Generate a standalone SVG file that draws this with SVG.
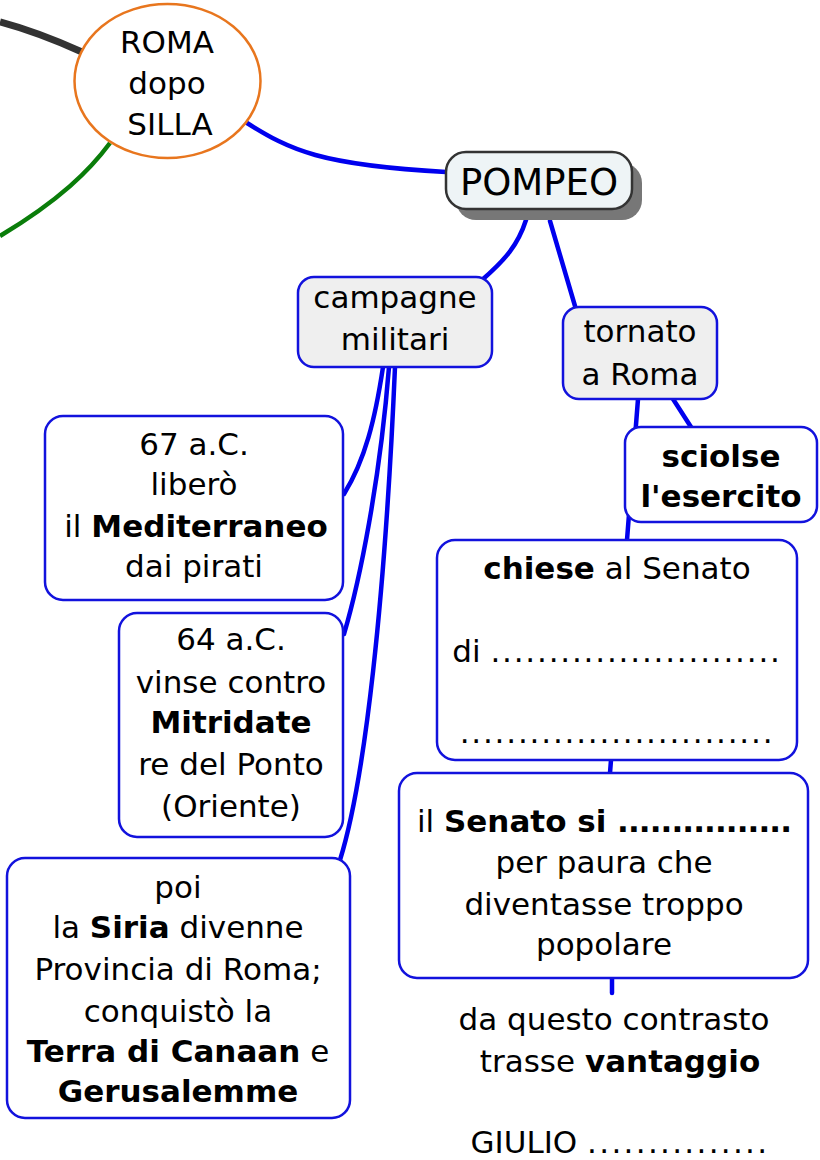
<svg xmlns="http://www.w3.org/2000/svg" width="820" height="1160" viewBox="0 0 820 1160">
<style>
text{font-family:"DejaVu Sans","Verdana",sans-serif;font-size:31px;fill:#000;text-anchor:middle}
.b{font-weight:bold}
.d{letter-spacing:1.8px}
.box{fill:#fff;stroke:#1212dd;stroke-width:2.5}
.grey{fill:#efefef}
.c{fill:none;stroke:#0000ee;stroke-width:4.5;stroke-linecap:round}
</style>
<rect width="820" height="1160" fill="#fff"/>
<g id="connectors">
<path d="M0,22 C30,30 55,40 82,52" fill="none" stroke="#333" stroke-width="7"/>
<path d="M110,143 C90,170 60,200 0,236" fill="none" stroke="#0a7d0a" stroke-width="4.5"/>
<path class="c" d="M247,123 C290,150 320,165 446,172"/>
<path class="c" d="M526,220 C518,245 505,260 482,280"/>
<path class="c" d="M550,221 L575,306"/>
<path class="c" d="M673,399 L691,427"/>
<path class="c" d="M638,399 L627,540"/>
<path class="c" d="M611,760 L610,773"/>
<path class="c" d="M612,978 L612,993" stroke-linecap="butt"/>
<path class="c" d="M383,367 C375,420 365,460 344,494"/>
<path class="c" d="M389,367 C380,480 360,580 344,634"/>
<path class="c" d="M395,367 C385,600 365,780 340,860"/>
</g>
<g id="roma">
<ellipse cx="167.5" cy="81" rx="93" ry="77" fill="#fff" stroke="#e8761e" stroke-width="2.5"/>
<text x="167" y="53">ROMA</text>
<text x="167" y="94">dopo</text>
<text x="170" y="135">SILLA</text>
</g>
<g id="pompeo">
<rect x="456" y="163" width="186" height="57" rx="20" fill="#777"/>
<rect x="446" y="152" width="186" height="57" rx="20" fill="#eef4f6" stroke="#333" stroke-width="2.5"/>
<text x="539" y="195" style="font-size:37px">POMPEO</text>
</g>
<g id="campagne">
<rect class="box grey" x="298" y="277" width="194" height="90" rx="16"/>
<text x="395" y="308">campagne</text>
<text x="395" y="350">militari</text>
</g>
<g id="tornato">
<rect class="box grey" x="563" y="307" width="154" height="92" rx="16"/>
<text x="640" y="342">tornato</text>
<text x="640" y="385">a Roma</text>
</g>
<g id="sciolse">
<rect class="box" x="625" y="427" width="192" height="95" rx="16"/>
<text class="b" x="721" y="467">sciolse</text>
<text class="b" x="721" y="507">l'esercito</text>
</g>
<g id="chiese">
<rect class="box" x="437" y="540" width="360" height="220" rx="18"/>
<text x="617" y="579"><tspan class="b">chiese</tspan> al Senato</text>
<text x="617" y="662">di <tspan class="d">.........................</tspan></text>
<text x="617" y="743" class="d">...........................</text>
</g>
<g id="senato">
<rect class="box" x="399" y="773" width="409" height="205" rx="18"/>
<text x="604" y="832">il <tspan class="b">Senato si <tspan style="letter-spacing:-0.9px">................</tspan></tspan></text>
<text x="604" y="873">per paura che</text>
<text x="604" y="915">diventasse troppo</text>
<text x="604" y="955">popolare</text>
</g>
<g id="contrasto">
<text x="614" y="1030">da questo contrasto</text>
<text x="620" y="1072">trasse <tspan class="b">vantaggio</tspan></text>
<text x="620" y="1153">GIULIO <tspan style="letter-spacing:2.3px">...............</tspan></text>
</g>
<g id="n67">
<rect class="box" x="45" y="416" width="298" height="184" rx="18"/>
<text x="194" y="455">67 a.C.</text>
<text x="194" y="495">liberò</text>
<text x="196" y="537">il <tspan class="b">Mediterraneo</tspan></text>
<text x="194" y="577">dai pirati</text>
</g>
<g id="n64">
<rect class="box" x="119" y="613" width="224" height="224" rx="18"/>
<text x="231" y="650">64 a.C.</text>
<text x="231" y="693">vinse contro</text>
<text x="231" y="733" class="b">Mitridate</text>
<text x="231" y="775">re del Ponto</text>
<text x="231" y="817">(Oriente)</text>
</g>
<g id="poi">
<rect class="box" x="7" y="858" width="343" height="260" rx="18"/>
<text x="178" y="898">poi</text>
<text x="178" y="938">la <tspan class="b">Siria</tspan> divenne</text>
<text x="178" y="980">Provincia di Roma;</text>
<text x="178" y="1022">conquistò la</text>
<text x="178" y="1062"><tspan class="b">Terra di Canaan</tspan> e</text>
<text x="178" y="1102" class="b">Gerusalemme</text>
</g>
</svg>
